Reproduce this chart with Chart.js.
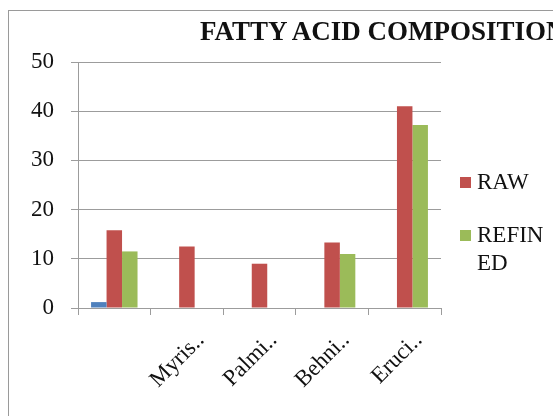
<!DOCTYPE html>
<html>
<head>
<meta charset="utf-8">
<script src="https://cdn.jsdelivr.net/npm/chart.js@4/dist/chart.umd.min.js"></script>
<style>
  html, body { margin: 0; padding: 0; background: #fff; overflow: hidden; }
  #wrap { position: relative; width: 553px; height: 416px; }
  #frame { position: absolute; left: 8px; top: 10px; width: 600px; height: 420px; border: 1px solid #9a9a9a; }
  #chart { position: absolute; left: 0; top: 0; }
  #title { position: absolute; left: 200px; top: 16px; white-space: nowrap;
    font: bold 27px "Liberation Serif", serif; color: #111; }
  .leg { position: absolute; left: 460px; font: 23px "Liberation Serif", serif; color: #111; line-height: 28px; }
  .leg span { position: absolute; left: 0; top: 9px; width: 11px; height: 11px; }
  .leg div { margin-left: 17px; }
</style>
</head>
<body>
<div id="wrap">
  <div id="frame"></div>
  <canvas id="chart" width="553" height="416"></canvas>
  <div id="title">FATTY ACID COMPOSITION</div>
  <div class="leg" style="top:168px"><span style="background:#C0504D"></span><div>RAW</div></div>
  <div class="leg" style="top:221px"><span style="background:#9BBB59"></span><div>REFIN<br>ED</div></div>
</div>
<script>
const categories = ["", "Myris..", "Palmi..", "Behni..", "Eruci.."];
const series1 = [1.2, null, null, null, null];
const raw = [15.8, 12.5, 9, 13.3, 41];
const refined = [11.5, null, null, 11, 37.2];
const yTicks = [0, 10, 20, 30, 40, 50];

const serif = "'Liberation Serif', 'Times New Roman', serif";
const gridColor = "#9c9c9c";

new Chart(document.getElementById("chart").getContext("2d"), {
  type: "bar",
  data: {
    labels: categories,
    datasets: [
      { label: "", data: series1, backgroundColor: "#4F81BD" },
      { label: "RAW", data: raw, backgroundColor: "#C0504D" },
      { label: "REFINED", data: refined, backgroundColor: "#9BBB59" },
    ],
  },
  options: {
    responsive: false,
    animation: false,
    layout: { padding: { left: 0, top: 62, right: 112, bottom: 0 } },
    datasets: { bar: { categoryPercentage: 0.64, barPercentage: 1.0 } },
    plugins: { legend: { display: false }, title: { display: false }, tooltip: { enabled: false } },
    scales: {
      x: {
        grid: { offset: true, drawOnChartArea: false, tickLength: 7, color: gridColor },
        border: { color: gridColor },
        ticks: {
          minRotation: 45, maxRotation: 45, autoSkip: false,
          labelOffset: 14, padding: 12,
          color: "#111", font: { family: serif, size: 23 },
        },
        afterFit: (s) => { s.height = 108; },
      },
      y: {
        min: 0, max: 50,
        afterBuildTicks: (s) => { s.ticks = yTicks.map((v) => ({ value: v })); },
        grid: { color: gridColor, tickLength: 7 },
        border: { color: gridColor },
        ticks: { padding: 17, color: "#111", font: { family: serif, size: 23 } },
        afterFit: (s) => { s.width = 78; },
      },
    },
  },
});
</script>
</body>
</html>
